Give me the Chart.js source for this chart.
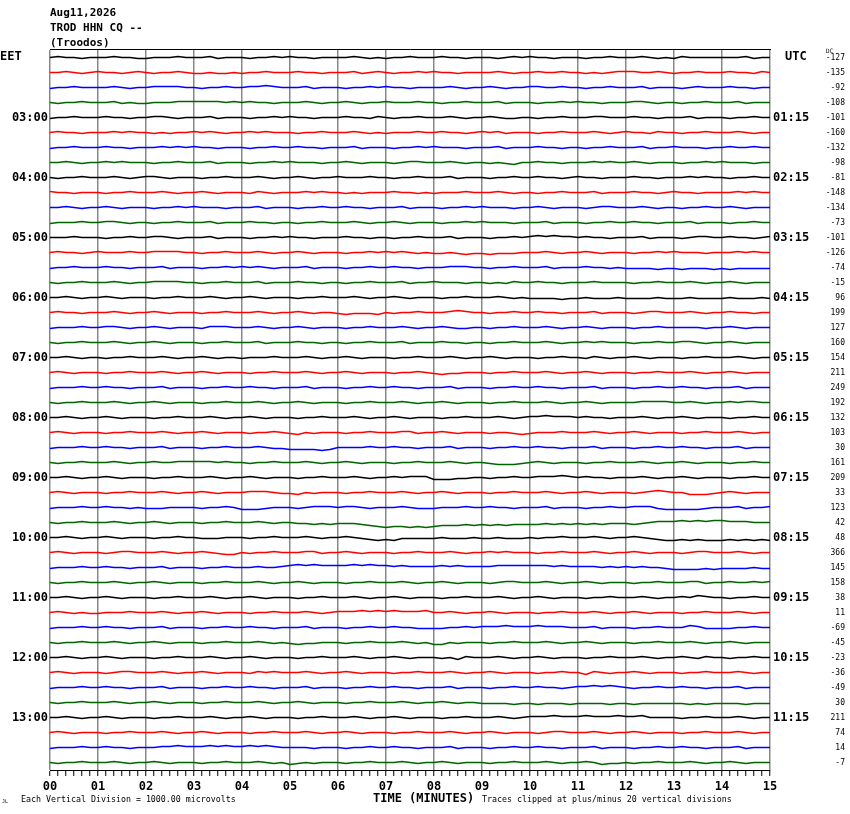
<!DOCTYPE html>
<html>
<head>
<meta charset="utf-8">
<title>TROD HHN CQ -- helicorder</title>
<script src="https://cdn.jsdelivr.net/npm/chart.js@4.4.1/dist/chart.umd.min.js"></script>
<style>
  html, body { margin: 0; padding: 0; background: #fff; }
  #wrap { width: 850px; height: 814px; }
</style>
</head>
<body>
<div id="wrap"><canvas id="heli" width="850" height="814"></canvas></div>
<script>
// Cabecera y textos
const headerLines = ['Aug11,2026', 'TROD HHN CQ --', '(Troodos)'];
const minuteLabels = ['00', '01', '02', '03', '04', '05', '06', '07', '08', '09', '10', '11', '12', '13', '14', '15'];
const eetLabels = ['03:00', '04:00', '05:00', '06:00', '07:00', '08:00', '09:00', '10:00', '11:00', '12:00', '13:00'];
const utcLabels = ['01:15', '02:15', '03:15', '04:15', '05:15', '06:15', '07:15', '08:15', '09:15', '10:15', '11:15'];
const dcValues = [-127, -135, -92, -108, -101, -160, -132, -98, -81, -148, -134, -73, -101, -126, -74, -15,
  96, 199, 127, 160, 154, 211, 249, 192, 132, 103, 30, 161, 209, 33, 123, 42,
  48, 366, 145, 158, 38, 11, -69, -45, -23, -36, -49, 30, 211, 74, 14, -7];

// Muestras de cada traza (cada 10 s, un grupo por minuto), 5 = linea base
const traceSamples = [
  '565545 556554 455565 556455 545565 655455 556545 455655 565545 554565 655455 545565 556545 465555 555645 5',
  '556545 655456 545565 445445 455655 565545 556456 545565 655455 556545 565565 545456 665565 455655 565546 5',
  '455655 556545 566665 545565 566765 556455 545565 655455 556545 565455 665565 545565 556455 545655 565545 5',
  '545565 556454 455566 666656 565545 556545 565455 655565 545565 556455 545565 655455 566545 545565 556455 5',
  '455655 565545 566545 556455 545565 655455 565546 545565 556545 565445 545565 556655 565545 556455 545565 5',
  '565545 556565 545455 656545 565655 545565 556545 455565 565545 656455 545565 556545 655465 545565 556545 5',
  '455655 565545 556565 655455 545565 565545 556455 545565 655545 556455 565545 545565 556455 655545 565565 5',
  '556545 565655 545565 556455 545565 655545 565455 545665 556545 545435 565545 556565 565455 545565 655545 5',
  '545565 556545 665455 545565 556545 565455 655565 545565 556455 545565 565545 655455 565545 556565 545565 5',
  '655455 545565 556545 565455 546545 556565 545455 565545 455565 556545 545565 556455 565545 655455 556565 5',
  '556545 565455 545565 655545 556455 545565 565545 556455 545565 655545 565455 545665 556545 545565 565455 5',
  '455565 566545 545565 556455 565545 545565 556545 565455 545565 655545 556455 545565 565545 556455 545565 5',
  '555655 545565 566545 556455 545565 655455 565545 545565 556455 545565 676766 565545 556455 545665 565545 6',
  '565545 655565 566665 545565 556545 565455 545565 656545 445434 434445 556545 565455 545565 655545 556565 5',
  '455655 565545 556455 545565 656545 556455 545565 565545 556665 545565 556455 565545 444434 434443 434444 4',
  '545565 556545 566665 545565 556455 565545 545565 556455 655545 545465 565545 556555 545565 556545 565455 5',
  '556545 565455 545565 556545 565455 545565 556545 565455 545565 556545 444434 454445 444454 445444 454445 4',
  '565545 556545 565455 545565 556545 565455 434443 545565 556765 545565 565545 556455 545665 556545 565545 5',
  '455565 566545 565455 546665 556545 565455 545565 556545 565445 545565 556545 565455 545565 555545 565455 5',
  '545565 556545 565455 545565 556455 565545 545565 556455 565545 545565 556545 565655 545565 566545 565455 5',
  '556545 545565 556545 565455 455565 556545 565455 545565 556545 565455 545565 546545 565455 545565 556545 5',
  '565455 545565 556545 565455 545565 556545 565455 545565 434455 545565 556545 565455 545565 556545 565455 5',
  '455565 565545 556455 545565 565545 556455 545565 565545 556455 545565 565545 556455 545565 565545 556455 5',
  '545565 556545 565455 545565 556545 565455 545565 556545 565455 545565 556545 565455 556666 556545 565665 5',
  '556545 565455 545565 556545 565455 545565 556545 565455 545565 556545 667666 565545 556545 565455 545565 5',
  '565455 545565 556545 565455 545565 435455 545565 556645 565455 545543 455565 556545 565455 545565 556545 5',
  '455565 565545 556455 545565 556544 333323 555565 565545 556455 545565 565545 556455 545565 565545 556455 5',
  '545565 556545 565566 666565 545565 556545 565455 545565 556545 543334 565455 545565 556545 565455 545565 5',
  '556545 565455 545565 556545 565455 545565 556545 565666 333445 545565 566676 565545 556545 565455 545565 5',
  '565455 545565 556545 565455 566654 435455 545565 556545 565455 545565 556545 565455 545676 553334 565455 5',
  '455565 565545 444555 545565 333455 545666 566545 556544 455565 565545 556455 545565 566643 333345 556455 6',
  '545565 556545 565455 545565 556545 544343 444321 011010 122232 323233 334343 434344 434566 676767 766655 5',
  '556545 565455 545565 544455 545565 556545 565432 324444 454445 445444 545565 556545 565432 232322 232323 2',
  '565455 545665 556545 565433 545565 556645 565455 545565 556545 565655 545565 556545 565455 545665 556545 5',
  '455565 565545 556455 545565 556556 787877 778787 767666 676766 667777 777676 666565 656554 333343 444454 4',
  '545565 556545 565455 545565 556545 565455 545565 556545 565455 545665 556545 565455 545565 556645 565565 6',
  '556545 565455 545565 556545 565455 545565 556545 565455 545565 556545 565455 545565 556545 565765 545565 5',
  '565454 455565 556545 565455 545565 556545 666767 676667 556545 565455 545565 556545 565455 545565 556545 5',
  '455565 565545 556455 545565 565545 556455 545565 565544 445565 666766 676665 556455 545565 557644 445565 5',
  '545565 556545 565455 545565 556545 434455 545565 556545 335455 545565 556545 565455 545565 556545 565455 5',
  '556545 565455 545565 556545 565455 545565 556545 565455 545365 556545 565455 545565 556545 565465 545565 5',
  '565455 545665 556545 565455 546565 556545 565455 545565 556545 565455 545565 536545 565455 545565 556545 5',
  '455565 565545 556455 545565 565545 556455 545565 565545 556455 545565 565545 667676 545565 565545 556455 5',
  '545565 556545 565455 545565 556545 565455 545565 556545 565455 444434 434443 444434 434444 443434 444344 4',
  '556545 565455 545565 556545 565455 545565 556545 565455 545565 556545 666766 676667 667555 545565 556545 5',
  '565455 545565 556545 565455 545565 556545 565455 545565 556545 565455 545665 556545 565455 545565 556545 5',
  '455565 565545 556676 667676 676765 555455 545565 565545 556455 545565 565545 556455 545565 565545 556455 5',
  '545565 556545 565455 545565 556545 345455 545565 556545 565455 545565 556545 565344 545565 556545 565455 5'
];

const traceColors = ['#000000', '#ff0000', '#0000ff', '#006400'];
const SLOT = 15;            // unidades entre trazas
const PER_MIN = 6;          // muestras por minuto
const N_TRACES = traceSamples.length;
const Y_MAX = N_TRACES * SLOT;
const baseline = k => SLOT / 2 + SLOT * k;
const mono = '"DejaVu Sans Mono", "Liberation Mono", monospace';

const datasets = traceSamples.map(function (s, k) {
  const vals = s.replace(/ /g, '').split('').map(Number);
  return {
    data: vals.map((d, i) => ({ x: i / PER_MIN, y: baseline(k) - (d - 5) })),
    borderColor: traceColors[k % 4],
    borderWidth: 1.5,
    pointRadius: 0,
    tension: 0,
    fill: false
  };
});

const labelRows = eetLabels.map((_, j) => 4 * (j + 1));
const allRows = dcValues.map((_, k) => k);
const minorTicks = [];
for (let i = 0; i <= 15 * PER_MIN; i++) minorTicks.push(i / PER_MIN);

// Textos sueltos (EET, UTC, DC y pie)
const textPlugin = {
  id: 'heliText',
  afterDraw(chart) {
    const c = chart.ctx;
    c.save();
    c.fillStyle = '#000';
    c.textBaseline = 'middle';
    c.textAlign = 'left';
    c.font = 'bold 12px ' + mono;
    c.fillText('EET', 0, 57);
    c.fillText('UTC', 785, 57);
    c.fillText('TIME (MINUTES)', 373, 799);
    c.font = '6px ' + mono;
    c.fillText('DC', 826, 51);
    c.font = '8.3px ' + mono;
    c.fillText('Each Vertical Division = 1000.00 microvolts', 21, 800);
    c.fillText('Traces clipped at plus/minus 20 vertical divisions', 482, 800);
    c.font = '5px ' + mono;
    c.fillText('JL', 2, 802);
    c.restore();
  }
};

const ctx = document.getElementById('heli').getContext('2d');
const heli = new Chart(ctx, {
  type: 'line',
  data: { datasets: datasets },
  plugins: [textPlugin],
  options: {
    responsive: false,
    animation: false,
    layout: { padding: { left: 0, right: 5, top: 0, bottom: 0 } },
    plugins: {
      legend: { display: false },
      tooltip: { enabled: false },
      title: {
        display: true,
        text: headerLines,
        align: 'start',
        fullSize: false,
        color: '#000',
        font: { family: mono, size: 11, weight: 'bold', lineHeight: 1.3333 },
        padding: { top: 6, bottom: 0 }
      }
    },
    scales: {
      x: {
        type: 'linear', position: 'bottom', min: 0, max: 15,
        afterBuildTicks: s => { s.ticks = minorTicks.map(v => ({ value: v })); },
        afterFit: s => { s.height = 44; },
        ticks: {
          autoSkip: false, maxRotation: 0, minRotation: 0, padding: 4, color: '#000',
          font: { family: mono, size: 12, weight: 'bold' },
          callback: (v, i) => (i % PER_MIN === 0 ? minuteLabels[i / PER_MIN] : '')
        },
        grid: {
          drawOnChartArea: true, drawTicks: true, tickLength: 6,
          color: c => (c.index % PER_MIN === 0 ? '#888888' : 'rgba(0,0,0,0)'),
          lineWidth: 1.5, tickColor: '#000', tickWidth: 1
        },
        border: { display: true, color: '#000', width: 1 }
      },
      xTop: {
        type: 'linear', position: 'top', min: 0, max: 15,
        afterFit: s => { s.height = 0; },
        ticks: { display: false },
        grid: { display: false, drawTicks: false },
        border: { display: true, color: '#000', width: 1 }
      },
      y: {
        type: 'linear', position: 'left', min: 0, max: Y_MAX, reverse: true,
        afterBuildTicks: s => { s.ticks = labelRows.map(k => ({ value: baseline(k) })); },
        afterFit: s => { s.width = 50; },
        ticks: {
          autoSkip: false, padding: 2, color: '#000',
          font: { family: mono, size: 12, weight: 'bold' },
          callback: (v, i) => eetLabels[i]
        },
        grid: { display: false, drawTicks: false },
        border: { display: false }
      },
      yUtc: {
        type: 'linear', position: 'right', weight: 1, min: 0, max: Y_MAX, reverse: true,
        afterBuildTicks: s => { s.ticks = labelRows.map(k => ({ value: baseline(k) })); },
        afterFit: s => { s.width = 50; },
        ticks: {
          autoSkip: false, padding: 3, color: '#000',
          font: { family: mono, size: 12, weight: 'bold' },
          callback: (v, i) => utcLabels[i]
        },
        grid: { display: false, drawTicks: false },
        border: { display: false }
      },
      yDc: {
        type: 'linear', position: 'right', weight: 2, min: 0, max: Y_MAX, reverse: true,
        afterBuildTicks: s => { s.ticks = allRows.map(k => ({ value: baseline(k) })); },
        afterFit: s => { s.width = 25; },
        ticks: {
          autoSkip: false, padding: 0, color: '#000', crossAlign: 'far',
          font: { family: mono, size: 8 },
          callback: (v, i) => String(dcValues[i])
        },
        grid: { display: false, drawTicks: false },
        border: { display: false }
      }
    }
  }
});
</script>
</body>
</html>
